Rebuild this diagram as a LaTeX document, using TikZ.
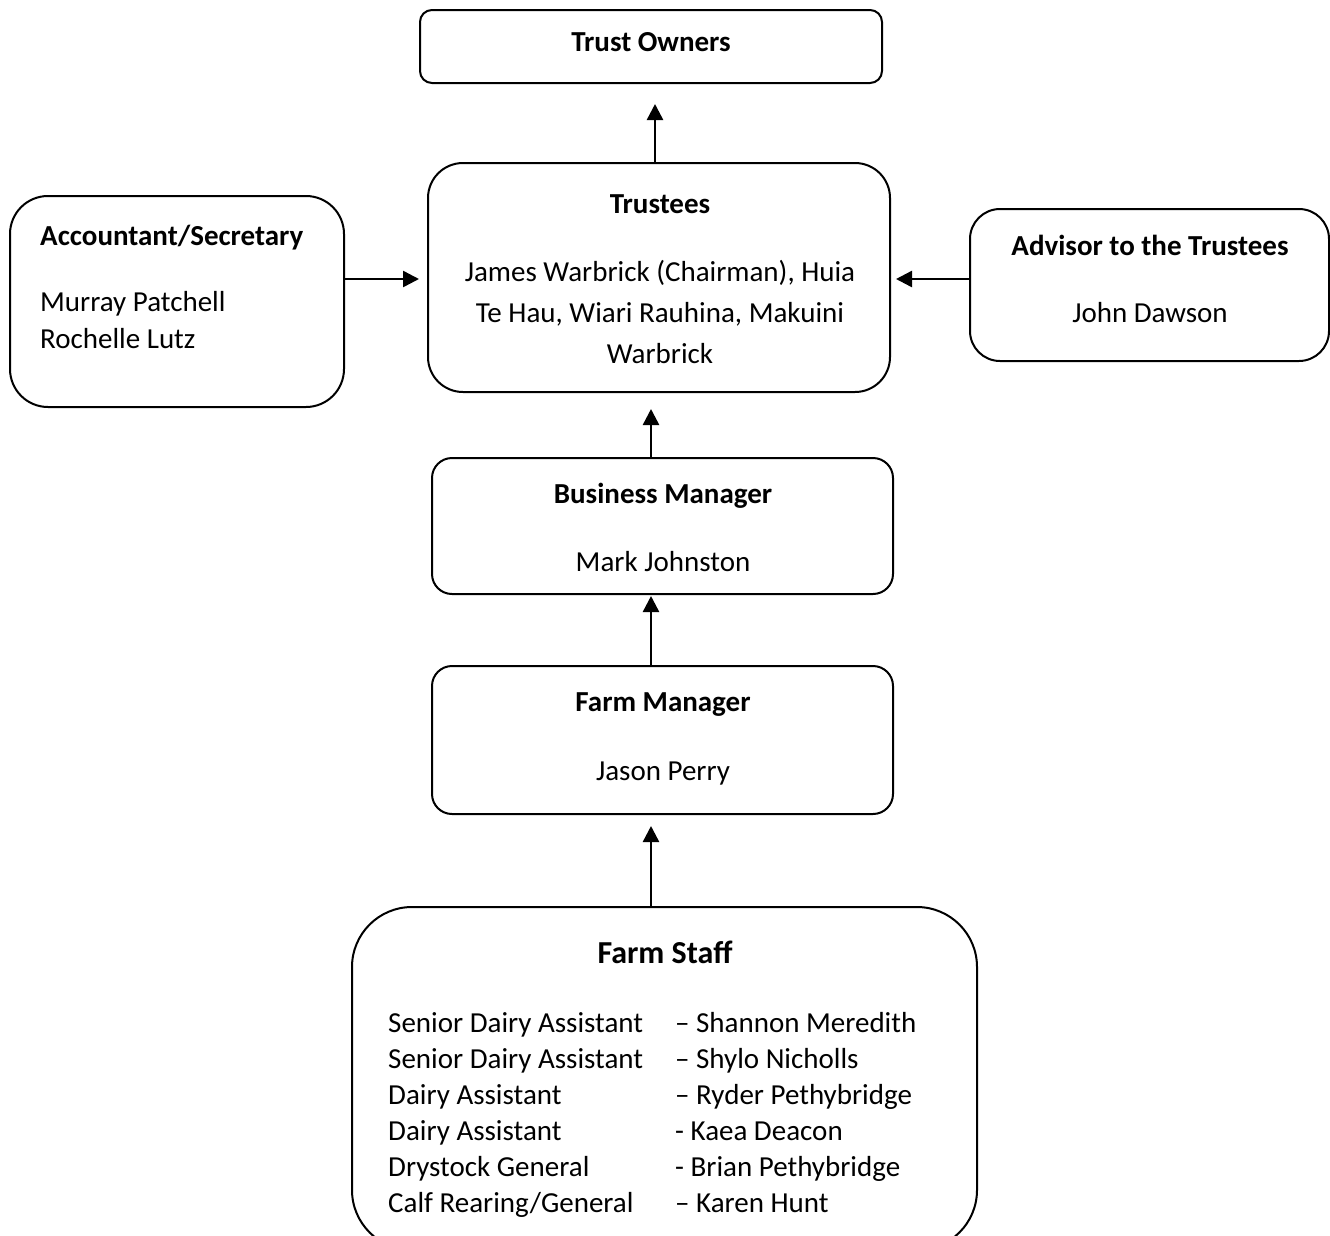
\documentclass[tikz,border=0pt]{standalone}
\usepackage{fontspec}
\setmainfont{Carlito}
\usetikzlibrary{arrows.meta}

\newcommand{\orgsize}[1]{\fontsize{29}{#1}\selectfont}
\newcommand{\orglines}[2]{\begin{tabular}[t]{@{}#1@{}}#2\end{tabular}}

\begin{document}
\begin{tikzpicture}[x=1pt,y=-1pt,
	orgbox/.style={draw,line width=2pt,inner sep=0pt,rounded corners=#1},
	orgbox/.default=20pt,
	orgtxt/.style={inner sep=0pt,anchor=base},
	conn/.style={line width=2.5pt,-{Triangle[length=16pt,width=16pt]}}]
	\useasboundingbox (0,0) rectangle (1330,1235);
	\clip (0,0) rectangle (1330,1235);
	% boxes
	\node[orgbox=12pt,minimum width=462pt,minimum height=73pt] (owners) at (651,46.5) {};
	\node[orgbox=35pt,minimum width=462pt,minimum height=229pt] (trustees) at (659,277.5) {};
	\node[orgbox=38pt,minimum width=334pt,minimum height=211pt] (acct) at (177,301.5) {};
	\node[orgbox=30pt,minimum width=359pt,minimum height=152pt] (advisor) at (1149.5,285) {};
	\node[orgbox,minimum width=461pt,minimum height=136pt] (bizmgr) at (662.5,526) {};
	\node[orgbox,minimum width=461pt,minimum height=148pt] (farmmgr) at (662.5,740) {};
	\node[orgbox=60pt,minimum width=625pt,minimum height=343pt] (staff) at (664.5,1078.5) {};
	% texts
	\node[orgtxt,font=\orgsize{35}] (owners-t) at (651,51) {\textbf{Trust Owners}};
	\node[orgtxt,font=\orgsize{41}] (trustees-t) at (660,213) {\orglines{c}{\textbf{Trustees}\\[27pt]James Warbrick (Chairman), Huia\\Te Hau, Wiari Rauhina, Makuini\\Warbrick}};
	\node[orgtxt,anchor=base west,font=\orgsize{37}] (acct-t) at (40,245) {\orglines{l}{\textbf{Accountant/Secretary}\\[29pt]Murray Patchell\\Rochelle Lutz}};
	\node[orgtxt,font=\orgsize{35.4}] (advisor-t) at (1150,255) {\orglines{c}{\textbf{Advisor to the Trustees}\\[31.6pt]John Dawson}};
	\node[orgtxt,font=\orgsize{35.4}] (bizmgr-t) at (663,503) {\orglines{c}{\textbf{Business Manager}\\[32.6pt]Mark Johnston}};
	\node[orgtxt,font=\orgsize{35.4}] (farmmgr-t) at (663,711) {\orglines{c}{\textbf{Farm Manager}\\[33.6pt]Jason Perry}};
	\node[orgtxt,font=\fontsize{32}{39}\selectfont\bfseries] (staff-t) at (665,963) {Farm Staff};
	\node[orgtxt,anchor=base west,font=\fontsize{29}{36}\selectfont] (staff-list) at (388,1032) {\begin{tabular}[t]{@{}p{287pt}@{}l@{}}
		Senior Dairy Assistant & \textendash{} Shannon Meredith\\
		Senior Dairy Assistant & \textendash{} Shylo Nicholls\\
		Dairy Assistant & \textendash{} Ryder Pethybridge\\
		Dairy Assistant & - Kaea Deacon\\
		Drystock General & - Brian Pethybridge\\
		Calf Rearing/General & \textendash{} Karen Hunt\\
	\end{tabular}};
	% connectors
	\draw[conn,shorten >=20pt] ([xshift=-4pt]trustees.north) -- ([xshift=4pt]owners.south);
	\draw[conn,shorten >=16pt] ([xshift=-11.5pt]bizmgr.north) -- ([xshift=-8pt]trustees.south);
	\draw[conn,shorten >=1pt] ([xshift=-11.5pt]farmmgr.north) -- ([xshift=-11.5pt]bizmgr.south);
	\draw[conn,shorten >=11pt] ([xshift=-13.5pt]staff.north) -- ([xshift=-11.5pt]farmmgr.south);
	\draw[conn,shorten >=8pt] ([yshift=22.5pt]acct.east) -- ([yshift=-1.5pt]trustees.west);
	\draw[conn,shorten >=5pt] ([yshift=6pt]advisor.west) -- ([yshift=-1.5pt]trustees.east);
\end{tikzpicture}
\end{document}
